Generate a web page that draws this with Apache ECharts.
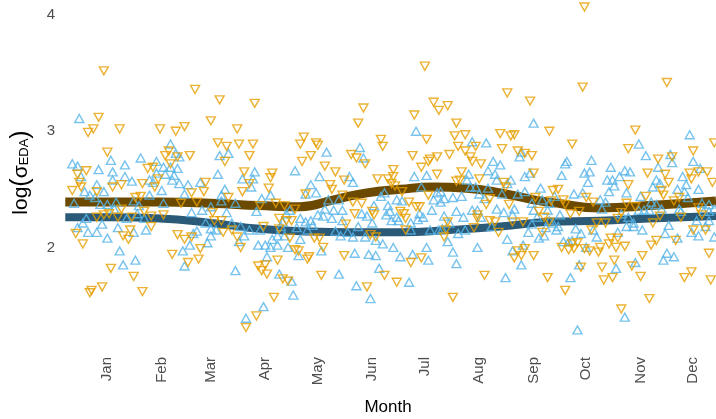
<!DOCTYPE html>
<html>
<head>
<meta charset="utf-8">
<script src="https://cdn.jsdelivr.net/npm/echarts@6/dist/echarts.min.js"></script>
<style>
html,body{margin:0;padding:0;background:#fff;}
#chart{width:716px;height:419px;}
</style>
</head>
<body>
<div id="chart"></div>
<script>
// x = day of year (Jan 1 = day 1), y = log(sigma_EDA)
const monthNames = ['Jan','Feb','Mar','Apr','May','Jun','Jul','Aug','Sep','Oct','Nov','Dec'];
const monthTickDays = [15,46,74,105,135,166,196,227,258,288,319,349];
const yTicks = [2,3,4];

const orangePoints = [
[13,3.52],[10,3.12],[7,3.02],[4,2.99],[22,3.02],[15,2.82],[38,2.68],[3,2.66],[-2,2.63],[-1,2.56],[35,2.55],[18,2.52],[23,2.54],[0,2.52],[-5,2.49],[9,2.48],[31,2.43],[34,2.44],[23,2.33],[16,2.29],[13,2.28],[9,2.26],[21,2.26],[29,2.26],[36,2.31],[40,2.27],[28,2.15],[24,2.10],[27,2.07],[-3,2.12],[1,2.03],[17,1.82],[30,1.75],[12,1.66],[6,1.63],[5,1.61],[35,1.62],
[65,3.36],[79,3.27],[74,3.09],[45,3.02],[54,3.00],[59,3.04],[89,3.02],[78,2.90],[83,2.87],[90,2.89],[96,2.79],[82,2.74],[50,2.83],[48,2.79],[51,2.72],[55,2.78],[62,2.79],[41,2.69],[93,2.65],[44,2.59],[71,2.56],[70,2.48],[63,2.47],[92,2.48],[84,2.43],[42,2.52],[57,2.38],[66,2.39],[47,2.28],[76,2.23],[80,2.23],[75,2.30],[40,2.18],[55,2.11],[59,2.07],[63,2.09],[81,2.13],[86,2.15],[89,2.09],[91,2.00],[52,1.94],[68,1.99],[67,1.90],[61,1.87],[94,1.31],
[99,3.24],[98,2.89],[127,2.95],[125,2.89],[134,2.90],[135,2.88],[131,2.79],[126,2.74],[139,2.70],[145,2.65],[109,2.64],[108,2.60],[96,2.55],[107,2.51],[142,2.54],[143,2.50],[149,2.45],[128,2.46],[102,2.36],[111,2.38],[116,2.36],[122,2.33],[113,2.25],[117,2.23],[120,2.23],[104,2.18],[113,2.16],[119,2.08],[133,2.08],[136,2.08],[138,2.00],[122,1.98],[124,1.97],[130,1.92],[129,1.90],[112,1.89],[101,1.84],[103,1.80],[105,1.85],[106,1.77],[115,1.73],[118,1.71],[137,1.76],[110,1.57],[100,1.41],[150,1.93],
[196,3.56],[201,3.25],[204,3.18],[161,3.20],[158,3.07],[190,3.14],[171,2.93],[172,2.87],[197,2.93],[154,2.80],[157,2.77],[162,2.72],[189,2.79],[198,2.74],[203,2.78],[199,2.76],[194,2.69],[178,2.67],[203,2.63],[169,2.59],[175,2.59],[178,2.61],[177,2.55],[150,2.58],[179,2.53],[198,2.45],[155,2.39],[160,2.38],[183,2.48],[187,2.39],[191,2.35],[193,2.35],[156,2.29],[166,2.31],[167,2.28],[182,2.31],[184,2.29],[185,2.25],[151,2.20],[185,2.15],[165,2.11],[168,2.09],[194,1.91],[188,1.87],[173,1.76],[163,1.66],[180,1.70],
[243,3.33],[256,3.26],[209,3.22],[214,3.07],[213,2.96],[219,2.97],[239,2.98],[245,2.96],[247,2.97],[225,2.87],[215,2.87],[219,2.83],[240,2.85],[210,2.80],[249,2.83],[253,2.81],[257,2.79],[222,2.78],[223,2.74],[228,2.72],[217,2.65],[227,2.59],[214,2.57],[216,2.58],[241,2.56],[242,2.52],[233,2.42],[231,2.37],[244,2.37],[226,2.28],[226,2.25],[233,2.23],[236,2.22],[246,2.22],[252,2.22],[238,2.13],[209,2.22],[208,2.15],[224,2.17],[207,2.09],[253,1.99],[249,1.97],[251,1.93],[247,1.91],[230,1.76],[212,1.57],[258,1.93],
[287,4.07],[286,3.38],[267,3.00],[280,2.89],[312,2.85],[258,2.64],[312,2.54],[269,2.49],[272,2.50],[259,2.43],[275,2.41],[276,2.37],[268,2.40],[288,2.43],[292,2.39],[311,2.38],[261,2.31],[264,2.26],[267,2.22],[279,2.29],[284,2.31],[294,2.21],[299,2.21],[306,2.25],[263,2.13],[291,2.15],[302,2.08],[306,2.08],[301,2.03],[305,2.00],[310,2.01],[280,2.03],[283,2.04],[274,2.00],[278,1.98],[281,1.99],[290,1.97],[295,1.96],[296,2.00],[287,1.99],[304,1.89],[285,1.83],[297,1.83],[303,1.74],[298,1.72],[266,1.74],[276,1.63],[308,1.47],
[334,3.42],[316,3.01],[361,2.90],[349,2.83],[329,2.76],[337,2.78],[323,2.64],[347,2.64],[348,2.59],[352,2.65],[357,2.65],[333,2.63],[335,2.56],[360,2.56],[331,2.49],[332,2.45],[341,2.43],[338,2.40],[322,2.44],[316,2.35],[352,2.34],[326,2.21],[330,2.27],[342,2.26],[354,2.28],[308,2.30],[349,2.15],[356,2.15],[339,2.06],[328,2.06],[325,2.02],[320,1.93],[358,1.95],[314,1.84],[319,1.75],[348,1.79],[344,1.74],[359,1.72],[324,1.56]
];

const bluePoints = [
[-1,3.11],[34,2.77],[-5,2.72],[-2,2.70],[17,2.75],[25,2.71],[10,2.67],[18,2.65],[25,2.61],[0,2.61],[18,2.58],[29,2.57],[39,2.58],[9,2.54],[13,2.48],[2,2.48],[5,2.45],[8,2.43],[-4,2.38],[11,2.37],[15,2.37],[20,2.39],[30,2.40],[39,2.45],[33,2.36],[19,2.33],[26,2.25],[32,2.29],[36,2.25],[3,2.25],[12,2.20],[1,2.21],[-2,2.17],[4,2.13],[9,2.13],[21,2.17],[30,2.13],[37,2.15],[15,2.08],[22,1.97],[31,1.89],[24,1.85],
[51,2.89],[54,2.81],[56,2.78],[43,2.74],[47,2.69],[51,2.69],[55,2.68],[43,2.64],[48,2.63],[53,2.62],[41,2.56],[52,2.58],[79,2.79],[84,2.81],[78,2.63],[92,2.59],[56,2.55],[61,2.54],[68,2.56],[59,2.46],[46,2.49],[82,2.50],[80,2.45],[47,2.38],[80,2.40],[88,2.38],[74,2.35],[63,2.30],[69,2.32],[83,2.30],[71,2.21],[74,2.16],[77,2.15],[86,2.21],[91,2.18],[66,2.14],[64,2.12],[93,2.10],[90,2.05],[74,2.10],[72,2.04],[62,2.02],[58,1.97],[59,1.84],[88,1.80],[94,1.39],
[140,2.82],[122,2.66],[99,2.65],[98,2.59],[136,2.61],[97,2.52],[108,2.45],[103,2.42],[131,2.54],[134,2.47],[128,2.46],[141,2.41],[147,2.41],[100,2.31],[119,2.32],[117,2.29],[139,2.33],[144,2.32],[135,2.28],[138,2.27],[143,2.25],[149,2.23],[125,2.25],[128,2.22],[131,2.23],[132,2.19],[123,2.17],[129,2.15],[115,2.22],[114,2.18],[96,2.15],[102,2.15],[145,2.14],[109,2.07],[112,2.10],[116,2.10],[125,2.07],[148,2.10],[101,2.02],[105,2.02],[108,2.00],[112,2.02],[118,2.00],[137,1.97],[124,1.93],[106,1.92],[113,1.77],[120,1.71],[147,1.77],[121,1.59],[104,1.49],
[191,3.00],[159,2.86],[161,2.77],[153,2.61],[155,2.56],[190,2.61],[197,2.62],[194,2.52],[173,2.47],[171,2.44],[180,2.41],[183,2.40],[203,2.47],[201,2.41],[167,2.36],[175,2.36],[176,2.31],[174,2.28],[177,2.23],[160,2.29],[163,2.27],[166,2.21],[149,2.32],[180,2.26],[181,2.23],[193,2.29],[195,2.26],[192,2.24],[200,2.32],[188,2.21],[158,2.18],[152,2.13],[155,2.09],[162,2.09],[188,2.15],[199,2.15],[204,2.15],[168,2.06],[172,2.03],[178,2.00],[197,2.00],[156,1.95],[164,1.94],[168,1.93],[182,1.92],[189,1.94],[198,1.89],[170,1.82],[157,1.67],[187,1.70],[165,1.56],
[258,3.07],[223,2.91],[231,2.90],[250,2.78],[251,2.82],[235,2.74],[239,2.71],[232,2.66],[221,2.63],[236,2.63],[237,2.58],[245,2.58],[243,2.55],[253,2.61],[256,2.64],[220,2.58],[222,2.52],[225,2.52],[227,2.46],[232,2.51],[240,2.46],[249,2.46],[253,2.48],[205,2.48],[207,2.42],[212,2.43],[217,2.44],[230,2.42],[205,2.39],[257,2.38],[258,2.32],[247,2.33],[237,2.33],[241,2.30],[223,2.32],[226,2.32],[214,2.31],[218,2.26],[228,2.26],[246,2.28],[207,2.27],[210,2.21],[234,2.18],[206,2.16],[219,2.15],[215,2.12],[255,2.13],[209,2.05],[243,2.07],[212,1.96],[226,2.00],[246,1.97],[252,2.02],[214,1.86],[251,1.85],[242,1.74],
[277,2.74],[276,2.72],[291,2.75],[302,2.69],[274,2.62],[287,2.64],[290,2.65],[289,2.56],[300,2.58],[303,2.58],[307,2.61],[310,2.66],[313,2.65],[304,2.53],[301,2.48],[311,2.47],[262,2.51],[281,2.46],[286,2.47],[270,2.44],[263,2.41],[267,2.38],[296,2.41],[299,2.39],[297,2.33],[266,2.32],[273,2.28],[308,2.29],[312,2.26],[260,2.26],[267,2.23],[269,2.21],[257,2.20],[272,2.18],[265,2.17],[271,2.15],[282,2.16],[285,2.12],[292,2.15],[294,2.09],[306,2.13],[311,2.18],[261,2.08],[264,2.10],[275,2.05],[278,2.05],[280,2.06],[288,2.00],[284,1.85],[305,1.82],[279,1.74],[310,1.40],[283,1.29],
[347,2.97],[318,2.89],[322,2.79],[337,2.73],[336,2.80],[349,2.74],[329,2.69],[353,2.68],[343,2.61],[328,2.58],[330,2.55],[326,2.52],[345,2.54],[344,2.48],[340,2.50],[346,2.43],[352,2.50],[319,2.44],[325,2.39],[328,2.37],[341,2.33],[342,2.31],[331,2.33],[321,2.32],[324,2.32],[354,2.38],[358,2.37],[361,2.33],[355,2.31],[358,2.31],[318,2.32],[315,2.21],[315,2.18],[351,2.23],[358,2.23],[335,2.19],[356,2.18],[348,2.13],[352,2.10],[320,2.15],[333,2.12],[340,2.08],[361,2.09],[334,1.95],[338,1.92],[332,1.89],[316,1.87]
];

const orangeSmooth = [[-9,2.39],[17,2.39],[45,2.39],[74,2.38],[102,2.36],[125,2.35],[144,2.41],[163,2.47],[182,2.50],[201,2.52],[220,2.51],[239,2.47],[258,2.41],[267,2.39],[296,2.34],[324,2.36],[362,2.40]];
const blueSmooth = [[-9,2.26],[17,2.26],[45,2.25],[74,2.21],[102,2.16],[125,2.14],[153,2.13],[182,2.13],[210,2.15],[239,2.18],[267,2.22],[296,2.23],[324,2.25],[362,2.27]];

const chart = echarts.init(document.getElementById('chart'), null, {renderer: 'canvas'});
const labelGrey = '#4d4d4d';
const font = '"Liberation Sans", Arial, Helvetica, sans-serif';

const option = {
  backgroundColor: '#ffffff',
  animation: false,
  grid: {left: 60, right: 0, top: 0, bottom: 74, containLabel: false, outerBoundsMode: 'none'},
  xAxis: {
    type: 'value', min: -12, max: 362,
    name: 'Month', nameLocation: 'middle', nameGap: 54,
    nameTextStyle: {color: '#000', fontSize: 17, fontFamily: font},
    axisLine: {show: false}, axisTick: {show: false}, splitLine: {show: false},
    axisLabel: {
      rotate: 90, margin: 12, color: labelGrey, fontSize: 15, fontFamily: font,
      customValues: monthTickDays,
      formatter: function (v) { const i = monthTickDays.indexOf(v); return i >= 0 ? monthNames[i] : ''; }
    }
  },
  yAxis: {
    type: 'value', min: 1.16, max: 4.13,
    name: '{t|log}{p|(}{t|σ}{s|EDA}{p|)}', nameLocation: 'middle', nameGap: 19, nameRotate: 90,
    nameTextStyle: {
      rich: {
        t: {fontSize: 21, fontFamily: font, color: '#000', lineHeight: 30, verticalAlign: 'middle'},
        p: {fontSize: 25, fontFamily: font, color: '#000', lineHeight: 30, verticalAlign: 'middle'},
        s: {fontSize: 13, fontFamily: font, color: '#000', lineHeight: 30, verticalAlign: 'bottom', padding: [0, 0, 5, 0]}
      }
    },
    axisLine: {show: false}, axisTick: {show: false}, splitLine: {show: false},
    axisLabel: {
      margin: 5, color: labelGrey, fontSize: 15, fontFamily: font,
      customValues: yTicks,
      formatter: function (v) { return String(v); }
    }
  },
  series: [
    {type: 'line', data: orangeSmooth, smooth: 0.5, showSymbol: false, symbol: 'none',
     lineStyle: {color: '#6b4a00', width: 9}, z: 2},
    {type: 'line', data: blueSmooth, smooth: 0.5, showSymbol: false, symbol: 'none',
     lineStyle: {color: '#2a5a77', width: 8}, z: 2},
    {type: 'scatter', data: bluePoints, symbol: 'triangle', symbolSize: [9, 8],
     itemStyle: {color: 'rgba(0,0,0,0)', borderColor: '#56B4E9', borderWidth: 1.4, opacity: 0.8}, z: 3},
    {type: 'scatter', data: orangePoints, symbol: 'triangle', symbolRotate: 180, symbolSize: [9, 8],
     itemStyle: {color: 'rgba(0,0,0,0)', borderColor: '#E69F00', borderWidth: 1.4, opacity: 0.8}, z: 3}
  ]
};
chart.setOption(option);
</script>
</body>
</html>
